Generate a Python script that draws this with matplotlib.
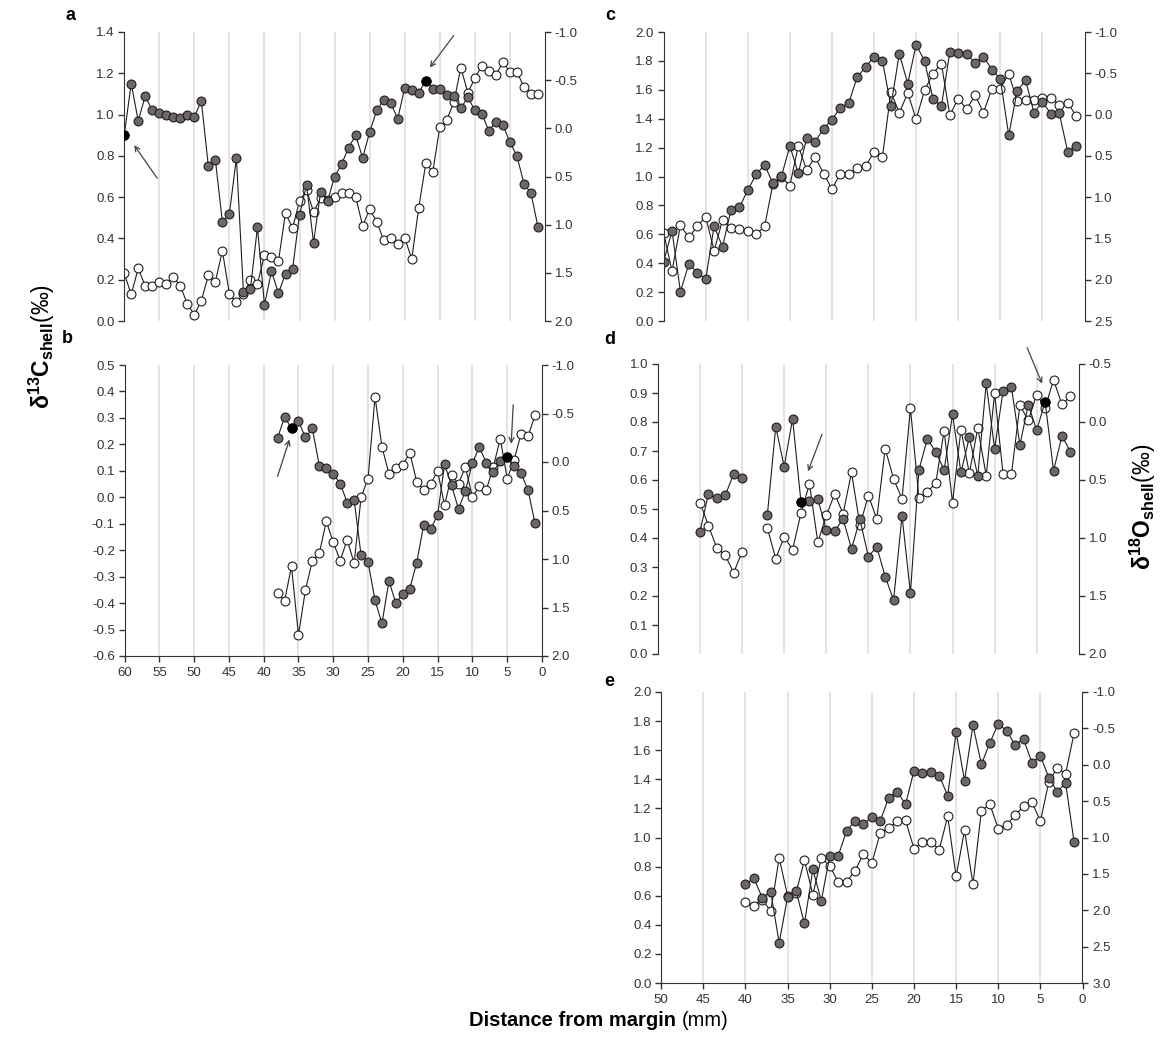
import matplotlib
matplotlib.use('Agg')
import matplotlib.pyplot as plt
import matplotlib.transforms as mtransforms
from matplotlib.ticker import MultipleLocator, FormatStrFormatter
import numpy as np

plt.rcParams['font.family'] = ['Liberation Sans', 'DejaVu Sans']
plt.rcParams['axes.unicode_minus'] = False
plt.rcParams['mathtext.fontset'] = 'custom'
plt.rcParams['mathtext.rm'] = 'Liberation Sans'
plt.rcParams['mathtext.it'] = 'Liberation Sans:italic'
plt.rcParams['mathtext.bf'] = 'Liberation Sans:bold'

nan = np.nan

# ---- data (distance from margin in mm, d13C left axis, d18O right axis) ----
a_x = list(range(60, 0, -1))
a_c13 = [0.90, 1.15, 0.97, 1.09, 1.02, 1.01, 1.00, 0.99, 0.985, 1.00,
         0.99, 1.065, 0.75, 0.78, 0.48, 0.52, 0.79, 0.14, 0.155, 0.455,
         0.078, 0.24, 0.135, 0.23, 0.25, 0.515, 0.66, 0.38, 0.625, 0.58,
         0.70, 0.76, 0.84, 0.90, 0.79, 0.915, 1.02, 1.07, 1.055, 0.98,
         1.13, 1.12, 1.105, 1.165, 1.125, 1.125, 1.095, 1.09, 1.03, 1.085,
         1.02, 1.005, 0.92, 0.965, 0.95, 0.865, 0.80, 0.665, 0.62, 0.455]
a_o18 = [1.506, 1.724, 1.454, 1.637, 1.637, 1.592, 1.617, 1.548, 1.634, 1.824,
         1.935, 1.79, 1.527, 1.592, 1.271, 1.72, 1.806, 1.724, 1.575, 1.617,
         1.316, 1.333, 1.375, 0.877, 1.039, 0.753, 0.642, 0.867, 0.728, 0.746,
         0.711, 0.67, 0.67, 0.711, 1.012, 0.839, 0.97, 1.16, 1.136, 1.205,
         1.136, 1.357, 0.822, 0.365, 0.452, -0.015, -0.09, -0.27, -0.63, -0.37,
         -0.52, -0.65, -0.60, -0.55, -0.69, -0.585, -0.585, -0.43, -0.36, -0.36]
a_black = [60, 17]

b_x = list(range(38, 0, -1))
b_c13 = [0.223, 0.305, 0.26, 0.288, 0.226, 0.26, 0.118, 0.109, 0.088, 0.052,
         -0.02, -0.01, -0.219, -0.244, -0.389, -0.477, -0.317, -0.40, -0.366, -0.345,
         -0.247, -0.103, -0.12, -0.067, 0.124, 0.046, -0.045, 0.025, 0.13, 0.189,
         0.13, 0.096, 0.138, 0.153, 0.118, 0.09, 0.027, -0.099]
b_o18 = [1.355, 1.431, 1.076, 1.783, 1.321, 1.017, 0.941, 0.61, 0.828, 1.017,
         0.80, 1.045, 0.362, 0.172, -0.672, -0.155, 0.121, 0.059, 0.034, -0.097,
         0.207, 0.286, 0.224, 0.093, 0.448, 0.138, 0.224, 0.052, 0.362, 0.248,
         0.286, 0.052, -0.241, 0.172, -0.024, -0.293, -0.266, -0.483]
b_black = [36, 5]

c_x = list(range(50, 0, -1))
c_c13 = [0.41, 0.624, 0.203, 0.396, 0.334, 0.288, 0.657, 0.514, 0.767, 0.786,
         0.906, 1.016, 1.078, 0.952, 1.002, 1.212, 1.021, 1.267, 1.24, 1.332,
         1.394, 1.477, 1.509, 1.689, 1.758, 1.828, 1.80, 1.486, 1.85, 1.643,
         1.912, 1.80, 1.539, 1.486, 1.862, 1.857, 1.846, 1.786, 1.828, 1.74,
         1.673, 1.286, 1.592, 1.666, 1.442, 1.516, 1.435, 1.44, 1.171, 1.212]
c_o18 = [1.431, 1.895, 1.343, 1.488, 1.351, 1.238, 1.649, 1.278, 1.379, 1.391,
         1.407, 1.452, 1.351, 0.835, 0.76, 0.859, 0.379, 0.673, 0.512, 0.714,
         0.903, 0.714, 0.714, 0.653, 0.625, 0.452, 0.512, -0.274, -0.02, -0.262,
         0.056, -0.294, -0.496, -0.617, 0.008, -0.194, -0.065, -0.234, -0.024, -0.315,
         -0.315, -0.496, -0.161, -0.181, -0.181, -0.202, -0.206, -0.113, -0.145, 0.016]

d_x = list(range(45, 0, -1))
d_c13 = [0.422, 0.552, 0.537, 0.547, 0.621, 0.608, nan, nan, 0.479, 0.784,
         0.646, 0.811, 0.523, 0.528, 0.534, 0.428, 0.424, 0.466, 0.363, 0.464,
         0.336, 0.37, 0.267, 0.186, 0.477, 0.209, 0.634, 0.741, 0.698, 0.634,
         0.826, 0.626, 0.747, 0.614, 0.933, 0.707, 0.907, 0.920, 0.721, 0.859,
         0.772, 0.87, 0.632, 0.752, 0.698]
d_o18 = [0.694, 0.894, 1.086, 1.149, 1.30, 1.12, nan, nan, 0.914, 1.177,
         0.991, 1.10, 0.786, 0.534, 1.037, 0.806, 0.62, 0.791, 0.434, 0.891,
         0.634, 0.834, 0.229, 0.491, 0.663, -0.12, 0.651, 0.60, 0.529, 0.077,
         0.694, 0.066, 0.443, 0.051, 0.463, -0.249, 0.449, 0.449, -0.143, -0.014,
         -0.237, -0.123, -0.363, -0.151, -0.223]
d_black = [33, 4]

e_x = list(range(40, 0, -1))
e_c13 = [0.68, 0.719, 0.586, 0.627, 0.276, 0.592, 0.634, 0.409, 0.781, 0.565,
         0.873, 0.873, 1.045, 1.114, 1.093, 1.139, 1.114, 1.274, 1.316, 1.228,
         1.458, 1.442, 1.447, 1.424, 1.288, 1.722, 1.391, 1.77, 1.504, 1.649,
         1.782, 1.734, 1.637, 1.676, 1.515, 1.561, 1.412, 1.316, 1.373, 0.969]
e_o18 = [1.887, 1.937, 1.855, 2.015, 1.282, 1.80, 1.763, 1.314, 1.786, 1.282,
         1.387, 1.612, 1.612, 1.456, 1.227, 1.35, 0.938, 0.869, 0.778, 0.764,
         1.153, 1.062, 1.062, 1.167, 0.709, 1.534, 0.901, 1.639, 0.631, 0.54,
         0.879, 0.824, 0.695, 0.572, 0.512, 0.778, 0.237, 0.045, 0.123, -0.436]

# ---- figure ----
W, H = 1168, 1038
fig = plt.figure(figsize=(W / 100, H / 100), dpi=100)

GRAY = '#6e6766'
GRID = '#e2dada'
EDGE = '#1e1e1e'
AXC = '#333333'


def box(l, r, t, b):
    return [l / W, 1 - b / H, (r - l) / W, (b - t) / H]


def arrow(ax, xd, yd, tip, tail):
    t_tip = mtransforms.offset_copy(ax.transData, fig=fig, x=tip[0], y=tip[1], units='dots')
    t_tail = mtransforms.offset_copy(ax.transData, fig=fig, x=tail[0], y=tail[1], units='dots')
    ax.annotate('', xy=(xd, yd), xycoords=t_tip, xytext=(xd, yd), textcoords=t_tail,
                arrowprops=dict(arrowstyle='->', color='#444444', lw=0.9,
                                shrinkA=0, shrinkB=0, mutation_scale=9))


def panel(rect, x, c13, o18, xmax, llim, lstep, rlim, black=(), arrows=(), xlabels=False):
    ax = fig.add_axes(rect)
    ax2 = ax.twinx()
    ax.set_zorder(ax2.get_zorder() + 1)
    ax.patch.set_visible(False)
    ax.set_xlim(xmax, 0)
    ax.set_ylim(*llim)
    ax2.set_ylim(rlim[1], rlim[0])

    for g in range(5, xmax, 5):
        ax2.axvline(g, color=GRID, lw=1.1, zorder=0)

    ax2.plot(x, o18, '-o', color=EDGE, lw=0.8, ms=6.4, mfc='white', mec=EDGE, mew=0.8)
    ax.plot(x, c13, '-o', color=EDGE, lw=0.8, ms=6.4, mfc=GRAY, mec=EDGE, mew=0.8)
    for bx in black:
        ax.plot(bx, c13[x.index(bx)], 'o', color='black', ms=6.4, mec='black', zorder=5)
    for bx, tip, tail in arrows:
        arrow(ax, bx, c13[x.index(bx)], tip, tail)

    ax.yaxis.set_major_locator(MultipleLocator(lstep))
    ax.yaxis.set_major_formatter(FormatStrFormatter('%.1f'))
    ax2.yaxis.set_major_locator(MultipleLocator(0.5))
    ax2.yaxis.set_major_formatter(FormatStrFormatter('%.1f'))

    for s in ['top', 'right']:
        ax.spines[s].set_visible(False)
    for s in ['top', 'left', 'bottom']:
        ax2.spines[s].set_visible(False)
    ax.spines['left'].set_color(AXC)
    ax2.spines['right'].set_color(AXC)
    ax.spines['bottom'].set_color(AXC)
    ax.spines['bottom'].set_visible(xlabels)

    ax.tick_params(axis='y', direction='out', length=4, width=1, colors=AXC,
                   labelsize=9.5, pad=3)
    ax2.tick_params(axis='y', direction='out', length=4, width=1, colors=AXC,
                    labelsize=9.5, pad=3)
    if xlabels:
        ax.set_xticks(range(0, xmax + 1, 5))
        ax.tick_params(axis='x', direction='out', length=4, width=1, colors=AXC,
                       labelsize=9.5, pad=4)
    else:
        ax.tick_params(axis='x', bottom=False, labelbottom=False)
    return ax, ax2


panel(box(124.2, 545, 32, 321), a_x, a_c13, a_o18, 60, (0, 1.4), 0.2, (-1.0, 2.0),
      black=a_black,
      arrows=[(60, (10, -10), (33, -43)), (17, (4, 13), (28, 45))])
panel(box(124.5, 542, 365, 656), b_x, b_c13, b_o18, 60, (-0.6, 0.5), 0.1, (-1.0, 2.0),
      black=b_black,
      arrows=[(36, (-2, -11), (-14, -48)), (5, (4, 13), (6, 52))], xlabels=True)
panel(box(663.6, 1084.5, 32, 321), c_x, c_c13, c_o18, 50, (0, 2.0), 0.2, (-1.0, 2.5))
panel(box(657.9, 1078.8, 364, 654), d_x, d_c13, d_o18, 50, (0, 1.0), 0.1, (-0.5, 2.0),
      black=d_black,
      arrows=[(33, (7, 31), (21, 68)), (4, (-3, 18), (-18, 54))])
panel(box(661.2, 1082.5, 692, 983), e_x, e_c13, e_o18, 50, (0, 2.0), 0.2, (-1.0, 3.0),
      xlabels=True)

# panel letters
for lx, ly, lt in [(70, 15, 'a'), (67, 338, 'b'), (610, 15, 'c'), (610, 340, 'd'), (609, 681, 'e')]:
    fig.text(lx / W, 1 - ly / H, lt, fontsize=13, fontweight='bold', ha='center', va='center')

# axis titles
fig.text(42 / W, 1 - 346 / H, r'$\mathbf{\delta^{13}C_{shell}}$(‰)', rotation=90,
         fontsize=16.5, ha='center', va='center')
fig.text(1143 / W, 1 - 507 / H, r'$\mathbf{\delta^{18}O_{shell}}$(‰)', rotation=90,
         fontsize=16.5, ha='center', va='center')
fig.text(676 / W, 1 - 1020 / H, 'Distance from margin', fontsize=14.5, fontweight='bold',
         ha='right', va='center')
fig.text(682 / W, 1 - 1020 / H, '(mm)', fontsize=14.5, ha='left', va='center')

fig.savefig('out.png', dpi=100)
